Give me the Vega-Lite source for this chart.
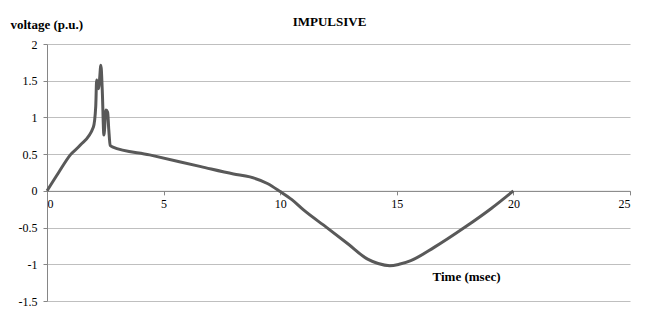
{
  "$schema": "https://vega.github.io/schema/vega-lite/v6.json",
  "autosize": "none",
  "width": 583,
  "height": 257,
  "padding": {"left": 47, "top": 44, "right": 18, "bottom": 12},
  "background": "white",
  "config": {"view": {"stroke": null}, "font": "Liberation Serif"},
  "title": {"text": "IMPULSIVE", "font": "Liberation Serif", "fontSize": 13, "fontWeight": "bold", "color": "black", "anchor": "middle", "dx": -9, "offset": -11},
  "data": {"values": [
    {"t": 0, "v": 0},
    {"t": 0.5, "v": 0.25},
    {"t": 1.0, "v": 0.49},
    {"t": 1.42, "v": 0.62},
    {"t": 1.99, "v": 0.87},
    {"t": 2.09, "v": 1.15},
    {"t": 2.13, "v": 1.51},
    {"t": 2.21, "v": 1.39},
    {"t": 2.25, "v": 1.5},
    {"t": 2.31, "v": 1.71},
    {"t": 2.37, "v": 1.37},
    {"t": 2.44, "v": 0.76},
    {"t": 2.53, "v": 1.1},
    {"t": 2.6, "v": 1.07},
    {"t": 2.65, "v": 0.83},
    {"t": 2.71, "v": 0.62},
    {"t": 2.8, "v": 0.6},
    {"t": 4.4, "v": 0.49},
    {"t": 6.6, "v": 0.33},
    {"t": 8.0, "v": 0.23},
    {"t": 8.7, "v": 0.19},
    {"t": 9.45, "v": 0.1},
    {"t": 10.0, "v": -0.01},
    {"t": 10.5, "v": -0.12},
    {"t": 11.0, "v": -0.26},
    {"t": 12.0, "v": -0.5},
    {"t": 12.9, "v": -0.72},
    {"t": 13.75, "v": -0.93},
    {"t": 14.2, "v": -0.99},
    {"t": 14.7, "v": -1.02},
    {"t": 15.1, "v": -1.0},
    {"t": 15.6, "v": -0.95},
    {"t": 16.6, "v": -0.77},
    {"t": 17.9, "v": -0.5},
    {"t": 19.05, "v": -0.24},
    {"t": 20.0, "v": 0}
  ]},
  "mark": {"type": "line", "color": "#595959", "strokeWidth": 3, "interpolate": "monotone"},
  "encoding": {
    "x": {
      "field": "t", "type": "quantitative",
      "scale": {"domain": [0, 25], "nice": false},
      "axis": {
        "values": [0, 5, 10, 15, 20, 25],
        "labelExpr": "'' + datum.value",
        "grid": false,
        "offset": -110.14,
        "domainColor": "#868686",
        "tickColor": "#868686",
        "tickSize": 4,
        "labelPadding": 4,
        "labelFont": "Liberation Serif",
        "labelFontSize": 12,
        "labelColor": "black",
        "title": "Time (msec)",
        "titleFont": "Liberation Serif",
        "titleFontSize": 13,
        "titleFontWeight": "bold",
        "titleColor": "black",
        "titleX": 419,
        "titleY": 86,
        "titleAlign": "center",
        "titleBaseline": "middle"
      }
    },
    "y": {
      "field": "v", "type": "quantitative",
      "scale": {"domain": [-1.5, 2], "nice": false, "zero": false},
      "axis": {
        "values": [-1.5, -1, -0.5, 0, 0.5, 1, 1.5, 2],
        "labelExpr": "'' + datum.value",
        "grid": true,
        "gridColor": "#bfbfbf",
        "gridWidth": 1,
        "domainColor": "#868686",
        "tickColor": "#868686",
        "tickSize": 4,
        "labelPadding": 6,
        "labelFont": "Liberation Serif",
        "labelFontSize": 12,
        "labelColor": "black",
        "title": "voltage (p.u.)",
        "titleFont": "Liberation Serif",
        "titleFontSize": 13,
        "titleFontWeight": "bold",
        "titleColor": "black",
        "titleAngle": 0,
        "titleX": -37,
        "titleY": -20,
        "titleAlign": "left",
        "titleBaseline": "middle"
      }
    }
  }
}
